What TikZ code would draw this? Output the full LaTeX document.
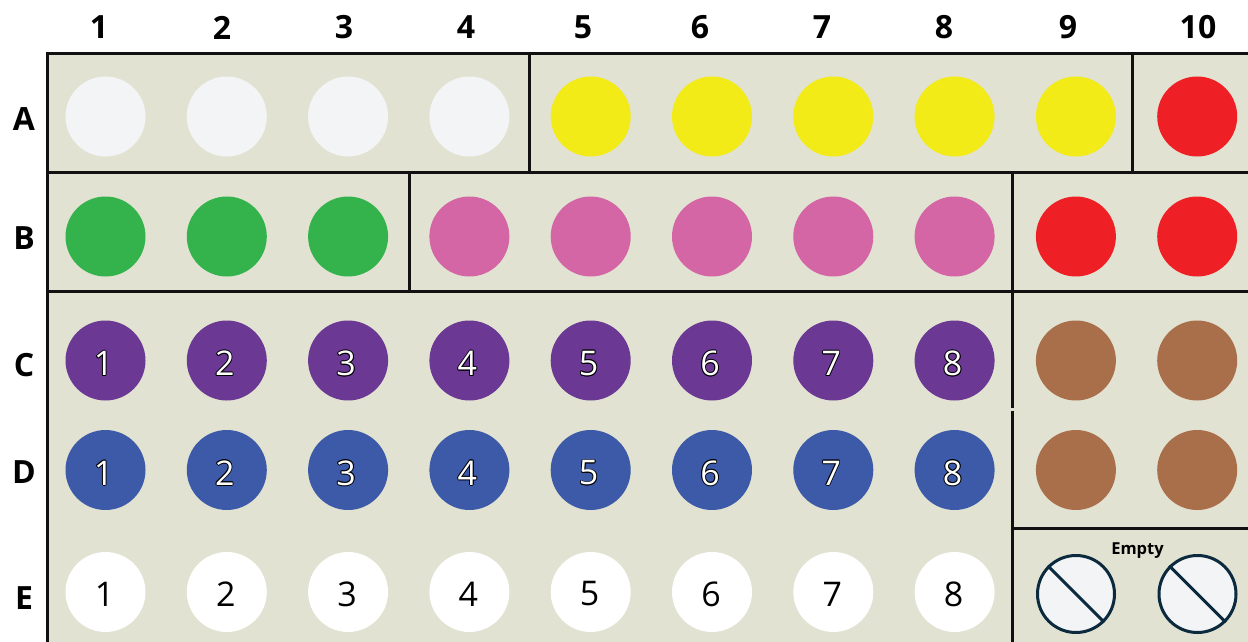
\documentclass[tikz,border=0pt]{standalone}
\usepackage{fontspec}
\setmainfont{Open Sans}
\usetikzlibrary{calc}
\definecolor{bgc}{HTML}{E1E2D1}
\definecolor{cwhite}{HTML}{F3F4F6}
\definecolor{cyellow}{HTML}{F2EB17}
\definecolor{cred}{HTML}{EE2025}
\definecolor{cgreen}{HTML}{34B34C}
\definecolor{cpink}{HTML}{D466A5}
\definecolor{cpurple}{HTML}{6B3894}
\definecolor{cblue}{HTML}{3C5AA7}
\definecolor{cbrown}{HTML}{A96E4A}
\definecolor{cnavy}{HTML}{0B2A3D}
\definecolor{cline}{HTML}{111111}
\begin{document}
\begin{tikzpicture}[x=1pt,y=-1pt,
  dot/.style={circle,inner sep=0pt,minimum size=80pt},
  gridline/.style={line width=3pt,draw=cline},
  headlbl/.style={font=\fontsize{32}{32}\selectfont\bfseries,inner sep=0pt},
  numlbl/.style={font=\fontsize{34}{34}\selectfont,inner sep=0pt},
  emptydot/.style={circle,inner sep=0pt,minimum size=77pt,fill=cwhite,draw=cnavy,line width=3pt}]
\useasboundingbox (0,0) rectangle (1248,642);
\fill[bgc] (47,54) rectangle (1260,660);
% column headers
\foreach \t/\x in {1/99,2/222,3/344,4/466,5/583,6/700,7/822,8/944,9/1068,10/1198}
  \node[headlbl] (h\t) at (\x,27.5) {\t};
% row labels
\foreach \r/\y in {A/119,B/238,C/365,D/472,E/598}
  \node[headlbl] (r\r) at (24,\y) {\r};
% row A
\foreach \i in {1,...,4} \node[dot,fill=cwhite] (A\i) at ({105.5+121.3*(\i-1)},116.5) {};
\foreach \i in {5,...,9} \node[dot,fill=cyellow] (A\i) at ({105.5+121.3*(\i-1)},116.5) {};
\node[dot,fill=cred] (A10) at ({105.5+121.3*9},116.5) {};
% row B
\foreach \i in {1,...,3} \node[dot,fill=cgreen] (B\i) at ({105.5+121.3*(\i-1)},236.5) {};
\foreach \i in {4,...,8} \node[dot,fill=cpink] (B\i) at ({105.5+121.3*(\i-1)},236.5) {};
\foreach \i in {9,10} \node[dot,fill=cred] (B\i) at ({105.5+121.3*(\i-1)},236.5) {};
% rows C and D
\foreach \r/\y/\c in {C/360.5/cpurple,D/470/cblue}{
  \foreach \i in {1,...,8}{
    \node[dot,fill=\c] (\r\i) at ({105.5+121.3*(\i-1)},\y) {};
    \foreach \a in {0,45,...,315}
      \node[numlbl,text=black] (\r\i o\a) at ($(\r\i)+(\a:0.9pt)+(-2,3)$) {\i};
    \node[numlbl,text=white] (\r\i t) at ($(\r\i)+(-2,3)$) {\i};
  }
  \foreach \i in {9,10} \node[dot,fill=cbrown] (\r\i) at ({105.5+121.3*(\i-1)},\y) {};
}
% row E
\foreach \i in {1,...,8}{
  \node[dot,fill=white] (E\i) at ({105.5+121.3*(\i-1)},592) {};
  \node[numlbl,text=black] (E\i t) at ($(E\i)+(-1,2)$) {\i};
}
\node[emptydot] (E9) at (1076,594) {};
\node[emptydot] (E10) at (1197.5,594) {};
\draw[cnavy,line width=3pt] (E9.135) -- (E9.-45);
\draw[cnavy,line width=3pt] (E10.135) -- (E10.-45);
\node[font=\fontsize{16.5}{16.5}\selectfont\bfseries,inner sep=0pt] (empty) at (1137.5,551) {Empty};
% grid lines
\draw[gridline] (47,660) -- (47,54) -- (1260,54);
\draw[gridline] (47,172.5) -- (1260,172.5);
\draw[gridline] (47,291.5) -- (1260,291.5);
\draw[gridline] (529.5,54) -- (529.5,172.5);
\draw[gridline] (1132.5,54) -- (1132.5,172.5);
\draw[gridline] (409,172.5) -- (409,291.5);
\draw[gridline] (1012.5,172.5) -- (1012.5,408);
\draw[gridline] (1012.5,410.5) -- (1012.5,526.5);
\draw[gridline] (1012.5,529.5) -- (1012.5,660);
\draw[gridline] (1011,528) -- (1260,528);
\end{tikzpicture}
\end{document}
